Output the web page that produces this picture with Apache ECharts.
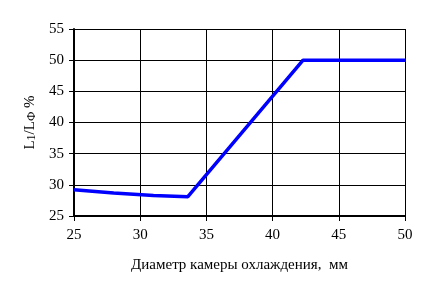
<!DOCTYPE html>
<html>
<head>
    <meta charset="utf-8">
    <title>Диаметр камеры охлаждения</title>
    <script src="https://cdn.jsdelivr.net/npm/echarts/dist/echarts.min.js"></script>
</head>
<body style="margin:0;background:#fff;">
<div id="chart" style="width: 430px; height: 294px;"></div>
<script>
    // данные
    var diameter = [25, 28, 31, 33.6, 42.3, 50];
    var ratio = [29.2, 28.7, 28.3, 28.1, 50, 50];
    var xTicks = [25, 30, 35, 40, 45, 50];
    var yTicks = [25, 30, 35, 40, 45, 50, 55];

    var points = diameter.map(function (d, i) {
        return [d, ratio[i]];
    });

    var font = '"Liberation Serif", "Times New Roman", serif';

    var option = {
        animation: false,
        grid: {
            left: 74,
            right: 25,
            top: 29,
            bottom: 78
        },
        xAxis: {
            type: 'value',
            min: xTicks[0],
            max: xTicks[xTicks.length - 1],
            interval: 5,
            name: 'Диаметр камеры охлаждения,  мм',
            nameLocation: 'middle',
            nameGap: 42,
            nameTextStyle: { color: '#000', fontFamily: font, fontSize: 15 },
            axisLine: { lineStyle: { color: '#000', width: 2 } },
            axisTick: { show: true, length: 5, lineStyle: { color: '#000' } },
            axisLabel: { color: '#000', fontFamily: font, fontSize: 15, margin: 12 },
            splitLine: { lineStyle: { color: '#000', width: 1 } }
        },
        yAxis: {
            type: 'value',
            min: yTicks[0],
            max: yTicks[yTicks.length - 1],
            interval: 5,
            name: '{a|L}{s|1}{a|/L}{s|Ф}{a| %}',
            nameLocation: 'middle',
            nameGap: 36,
            nameRotate: 90,
            nameTextStyle: {
                color: '#000',
                fontFamily: font,
                rich: {
                    a: { fontFamily: font, fontSize: 15, color: '#000', verticalAlign: 'bottom', lineHeight: 17 },
                    s: { fontFamily: font, fontSize: 12, color: '#000', verticalAlign: 'bottom', lineHeight: 10 }
                }
            },
            axisLine: { show: true, lineStyle: { color: '#000', width: 2 } },
            axisTick: { show: true, length: 5, lineStyle: { color: '#000' } },
            axisLabel: { color: '#000', fontFamily: font, fontSize: 15, margin: 10 },
            splitLine: { lineStyle: { color: '#000', width: 1 } }
        },
        series: [{
            type: 'line',
            data: points,
            showSymbol: false,
            lineStyle: { color: '#0000ff', width: 3.5 }
        }]
    };

    var chart = echarts.init(document.getElementById('chart'));
    chart.setOption(option);
</script>
</body>
</html>
